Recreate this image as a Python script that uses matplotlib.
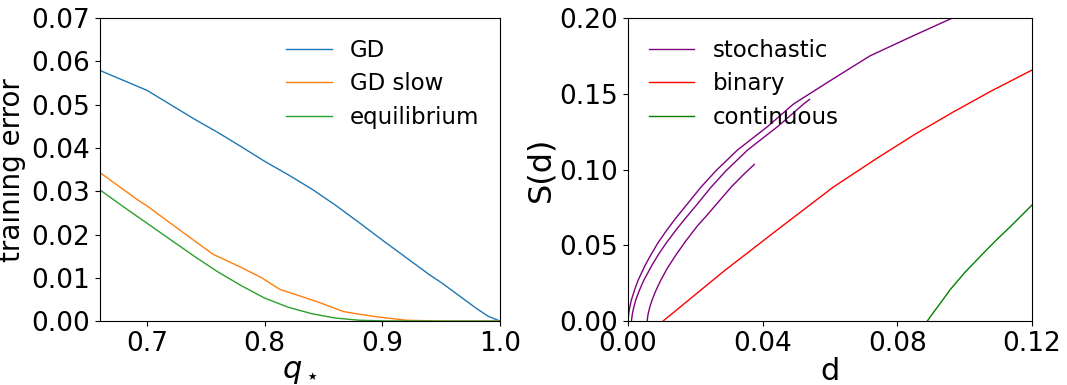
import matplotlib
matplotlib.use("Agg")
import matplotlib.pyplot as plt

# left panel: training error vs q_star
q_gd = [0.66, 0.68, 0.70, 0.72, 0.74, 0.76, 0.78, 0.80, 0.82, 0.84, 0.86, 0.88,
        0.90, 0.92, 0.94, 0.95, 0.96, 0.97, 0.98, 0.99, 1.0]
err_gd = [0.0579, 0.0556, 0.0533, 0.0500, 0.0467, 0.0436, 0.0403, 0.0369, 0.0338,
          0.0305, 0.0268, 0.0228, 0.0187, 0.0147, 0.0107, 0.0089, 0.0069, 0.0049,
          0.0029, 0.0011, 0.0]

q_slow = [0.66, 0.6926, 0.70, 0.72, 0.74, 0.7563, 0.78, 0.7974, 0.813, 0.83,
          0.8443, 0.867, 0.88, 0.895, 0.92, 0.95, 1.0]
err_slow = [0.0343, 0.0279, 0.0266, 0.0226, 0.0186, 0.0154, 0.0124, 0.0100, 0.0073,
            0.0058, 0.0045, 0.0022, 0.0016, 0.0010, 0.0002, 0.0, 0.0]

q_eq = [0.66, 0.68, 0.70, 0.72, 0.74, 0.76, 0.78, 0.80, 0.82, 0.84, 0.86, 0.88,
        0.90, 0.95, 1.0]
err_eq = [0.0303, 0.0264, 0.0226, 0.0188, 0.0150, 0.0114, 0.0082, 0.0053, 0.0032,
          0.0017, 0.0007, 0.0002, 0.00005, 0.0, 0.0]

# right panel: S(d)
d_st1 = [0.0, 0.0002, 0.0005, 0.001, 0.002, 0.003, 0.005, 0.007, 0.009, 0.0115,
         0.0142, 0.0175, 0.0215, 0.026, 0.0325, 0.0415, 0.0491, 0.060, 0.0719,
         0.0847, 0.0966, 0.100]
s_st1 = [0.0, 0.005, 0.009, 0.014, 0.021, 0.027, 0.0365, 0.0446, 0.052, 0.060,
         0.068, 0.077, 0.088, 0.099, 0.1129, 0.1285, 0.1432, 0.1586, 0.1751,
         0.1883, 0.2003, 0.204]
d_st2 = [0.001, 0.0013, 0.0017, 0.0023, 0.0035, 0.0047, 0.007, 0.0092, 0.0115,
         0.0142, 0.0171, 0.0205, 0.0245, 0.029, 0.0355, 0.0445, 0.0521, 0.0539]
s_st2 = [0.0, 0.005, 0.009, 0.014, 0.021, 0.027, 0.0365, 0.0446, 0.052,
         0.060, 0.068, 0.077, 0.088, 0.099, 0.1129, 0.1285, 0.1432, 0.1463]
d_st3 = [0.0057, 0.0058, 0.006, 0.0065, 0.0072, 0.0082, 0.0097, 0.0117, 0.0142,
         0.0172, 0.0207, 0.0231, 0.0267, 0.0307, 0.0342, 0.0375]
s_st3 = [0.0, 0.0024, 0.005, 0.0095, 0.0142, 0.0198, 0.0269, 0.035, 0.0436,
         0.053, 0.0631, 0.069, 0.0783, 0.0886, 0.0965, 0.1034]

d_bin = [0.0104, 0.0285, 0.0445, 0.061, 0.0739, 0.085, 0.0966, 0.108, 0.12]
s_bin = [0.0, 0.033, 0.0605, 0.0885, 0.1074, 0.123, 0.138, 0.152, 0.1657]

d_cont = [0.0889, 0.090, 0.0915, 0.0935, 0.0956, 0.100, 0.1055, 0.1095, 0.1135, 0.12]
s_cont = [0.0, 0.0035, 0.008, 0.014, 0.0205, 0.032, 0.0447, 0.0537, 0.0622, 0.0766]

fig = plt.figure(figsize=(10.67, 3.85), dpi=100)
ax1 = fig.add_axes([0.0937, 0.166, 0.375, 0.787])
ax2 = fig.add_axes([0.5886, 0.166, 0.3786, 0.787])

ax1.plot(q_gd, err_gd, lw=1, label="GD")
ax1.plot(q_slow, err_slow, lw=1, label="GD slow")
ax1.plot(q_eq, err_eq, lw=1, label="equilibrium")
ax1.set_xlim(0.66, 1.0)
ax1.set_ylim(0, 0.07)
ax1.set_xticks([0.7, 0.8, 0.9, 1.0])
ax1.set_yticks([0.0, 0.01, 0.02, 0.03, 0.04, 0.05, 0.06, 0.07])
ax1.set_yticklabels(["0.00", "0.01", "0.02", "0.03", "0.04", "0.05", "0.06", "0.07"])
ax1.set_xlabel(r"$q_\star$", fontsize=22, labelpad=0)
ax1.set_ylabel("training error", fontsize=20, labelpad=4)
ax1.tick_params(labelsize=19)
ax1.legend(loc="upper right", frameon=False, fontsize=16.5, labelspacing=0.47)

ax2.plot(d_st1, s_st1, color="purple", lw=1, label="stochastic")
ax2.plot(d_st2, s_st2, color="purple", lw=1)
ax2.plot(d_st3, s_st3, color="purple", lw=1)
ax2.plot(d_bin, s_bin, color="red", lw=1, label="binary")
ax2.plot(d_cont, s_cont, color="green", lw=1, label="continuous")
ax2.set_xlim(0, 0.12)
ax2.set_ylim(0, 0.2)
ax2.set_xticks([0.0, 0.04, 0.08, 0.12])
ax2.set_xticklabels(["0.00", "0.04", "0.08", "0.12"])
ax2.set_yticks([0.0, 0.05, 0.10, 0.15, 0.20])
ax2.set_yticklabels(["0.00", "0.05", "0.10", "0.15", "0.20"])
ax2.set_xlabel("d", fontsize=22, labelpad=0)
ax2.set_ylabel("S(d)", fontsize=23, labelpad=2)
ax2.tick_params(labelsize=19)
ax2.legend(loc="upper left", frameon=False, fontsize=16.5, labelspacing=0.47)

fig.savefig("out.png", dpi=100)
